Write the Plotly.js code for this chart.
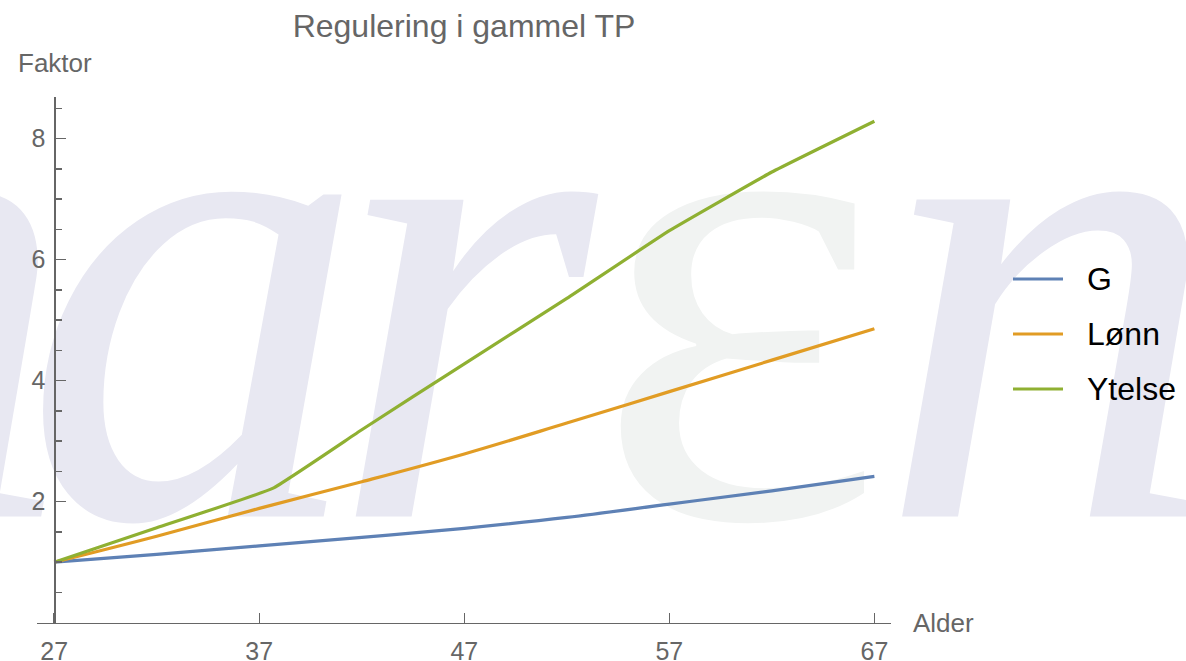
<!DOCTYPE html>
<html>
<head>
<meta charset="utf-8">
<script src="https://cdn.plot.ly/plotly-3.0.1.min.js"></script>
<style>
  body { margin: 0; background: #fff; }
  #chart { width: 1186px; height: 661px; }
</style>
</head>
<body>
<div id="chart"></div>
<script>
// values
const ages = [27, 32, 37, 42, 47, 52, 57, 62, 67];
const gValues = [1.00, 1.13, 1.27, 1.41, 1.56, 1.74, 1.96, 2.18, 2.42];
const lonnValues = [1.00, 1.43, 1.89, 2.33, 2.79, 3.30, 3.82, 4.34, 4.86];
// ytelse has a kink a bit past 37
const ytelseAges = [27, 32, 37.65, 42, 47, 52, 57, 62, 67];
const ytelseValues = [1.00, 1.57, 2.22, 3.19, 4.28, 5.36, 6.48, 7.45, 8.29];

const seriesNames = ["G", "Lønn", "Ytelse"];
const seriesColors = ["#5e81b5", "#e19c24", "#8fb032"];
const yTicks = [2, 4, 6, 8];
const xTicks = [27, 37, 47, 57, 67];

// background watermark letters (page pixels)
const markLetters = ["n", "a", "r", "ε", "n"];
const markX = [-100, 195, 462, 739, 1050];
const markY = [344, 344, 344, 344, 344];
const markColors = ["#e8e8f2", "#e8e8f2", "#e8e8f2", "#f1f3f2", "#e8e8f2"];

const W = 1186, H = 661;
const px = x => x / W;
const py = y => 1 - y / H;
const grey = "#666666";
const sans = "Liberation Sans, Arial, sans-serif";

const watermark = {
  x: markX,
  y: markY,
  text: markLetters.map((c, i) => i === 3 ? c : "<i>" + c + "</i>"),
  mode: "text",
  type: "scatter",
  xaxis: "x",
  yaxis: "y",
  textposition: "middle center",
  textfont: {family: "Liberation Serif, serif", size: 690, color: markColors},
  hoverinfo: "skip",
  cliponaxis: true
};

const xs = [ages, ages, ytelseAges];
const ys = [gValues, lonnValues, ytelseValues];
const lines = seriesNames.map((name, i) => ({
  x: xs[i],
  y: ys[i],
  name: name,
  mode: "lines",
  type: "scatter",
  xaxis: "x2",
  yaxis: "y2",
  line: {color: seriesColors[i], width: 3.2, shape: "spline", smoothing: i === 2 ? 0.3 : 1}
}));

// legend drawn by hand so the line swatches match the original
const legendRows = [279, 334, 389];
const shapes = seriesNames.map((name, i) => ({
  type: "line", xref: "paper", yref: "paper",
  x0: px(1013), x1: px(1063), y0: py(legendRows[i]), y1: py(legendRows[i]),
  line: {color: seriesColors[i], width: 3.2}
}));

const annotations = seriesNames.map((name, i) => ({
  text: name, xref: "paper", yref: "paper",
  x: px(1085), y: py(legendRows[i]), xanchor: "left", yanchor: "middle",
  showarrow: false, font: {family: sans, size: 32, color: "#000"}
}));
annotations.push({
  text: "Faktor", xref: "paper", yref: "paper",
  x: px(55), y: py(63), xanchor: "center", yanchor: "middle",
  showarrow: false, font: {family: sans, size: 26, color: grey}
});
annotations.push({
  text: "Alder", xref: "paper", yref: "paper",
  x: px(911), y: py(623), xanchor: "left", yanchor: "middle",
  showarrow: false, font: {family: sans, size: 26, color: grey}
});

const layout = {
  width: W,
  height: H,
  margin: {l: 0, r: 0, t: 0, b: 0},
  paper_bgcolor: "#ffffff",
  plot_bgcolor: "rgba(0,0,0,0)",
  showlegend: false,
  title: {
    text: "Regulering i gammel TP",
    font: {family: sans, size: 32, color: grey},
    x: px(464), xanchor: "center", xref: "paper",
    y: py(26), yanchor: "middle", yref: "container"
  },
  xaxis: {domain: [0, 1], range: [0, W], visible: false, fixedrange: true},
  yaxis: {domain: [0, 1], range: [H, 0], visible: false, fixedrange: true},
  xaxis2: {
    domain: [px(37), px(891)],
    range: [26.16, 67.81],
    anchor: "y2",
    showgrid: false, zeroline: false,
    showline: true, linecolor: grey, linewidth: 1.5,
    tickmode: "array", tickvals: xTicks,
    ticks: "inside", ticklen: 10, tickwidth: 1.5, tickcolor: grey,
    ticklabelstandoff: 6,
    tickfont: {family: sans, size: 25, color: grey}
  },
  yaxis2: {
    domain: [1 - 622.7 / H, 1 - 97 / H],
    range: [0, 8.69],
    anchor: "free",
    position: px(54.3),
    showgrid: false, zeroline: false,
    showline: true, linecolor: grey, linewidth: 1.5,
    tickmode: "array", tickvals: yTicks,
    ticks: "inside", ticklen: 10, tickwidth: 1.5, tickcolor: grey,
    ticklabelstandoff: 4,
    tickfont: {family: sans, size: 25, color: grey},
    minor: {tickmode: "linear", tick0: 0, dtick: 0.5, ticks: "inside", ticklen: 6, tickwidth: 1.5, tickcolor: grey, showgrid: false}
  },
  shapes: shapes,
  annotations: annotations
};

Plotly.newPlot("chart", [watermark].concat(lines), layout, {staticPlot: true});
</script>
</body>
</html>
